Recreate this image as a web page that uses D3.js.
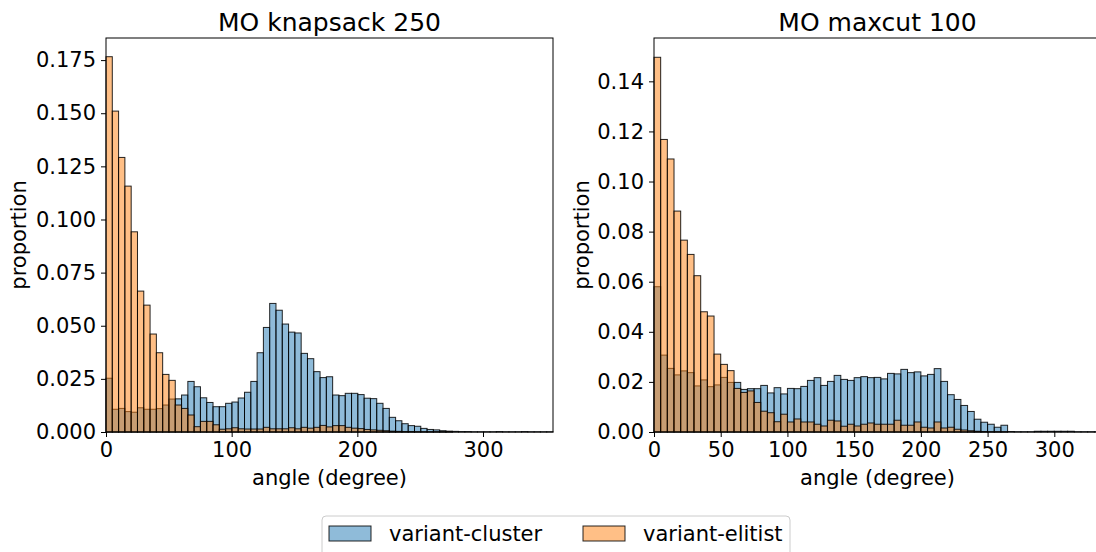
<!DOCTYPE html>
<html>
<head>
<meta charset="utf-8">
<script src="https://cdn.jsdelivr.net/npm/d3@7"></script>
<style>
  body { margin: 0; background: #fff; }
  text { font-family: "DejaVu Sans", sans-serif; fill: #000; }
</style>
</head>
<body>
<svg id="chart"></svg>
<script>
// proportion per 5-degree bin
const knapsackCluster = [
  0.0253, 0.0107, 0.0111, 0.0096, 0.0093, 0.0114, 0.0107, 0.0107, 0.0110, 0.0127,
  0.0155, 0.0156, 0.0174, 0.0238, 0.0213, 0.0161, 0.0139, 0.0119, 0.0119, 0.0135,
  0.0141, 0.0160, 0.0187, 0.0238, 0.0373, 0.0492, 0.0605, 0.0573, 0.0508, 0.0470,
  0.0466, 0.0370, 0.0345, 0.0284, 0.0256, 0.0260, 0.0174, 0.0171, 0.0182, 0.0182,
  0.0176, 0.0159, 0.0157, 0.0135, 0.0111, 0.0069, 0.0053, 0.0039, 0.0030, 0.0027,
  0.0017, 0.0012, 0.0010, 0.0006, 0.0004, 0.0003, 0.0002, 0.0002, 0.0001, 0.0001,
  0.0001, 0.0001, 0.0002, 0.0001, 0.0001, 0.0001, 0.0002, 0.0001, 0.0001, 0.0001,
  0.0001
];
const knapsackElitist = [
  0.1766, 0.1510, 0.1292, 0.1157, 0.0942, 0.0663, 0.0597, 0.0461, 0.0373, 0.0271,
  0.0243, 0.0127, 0.0111, 0.0080, 0.0025, 0.0050, 0.0050, 0.0034, 0.0013, 0.0015,
  0.0020, 0.0015, 0.0014, 0.0014, 0.0014, 0.0022, 0.0015, 0.0015, 0.0015, 0.0020,
  0.0015, 0.0022, 0.0018, 0.0022, 0.0031, 0.0024, 0.0030, 0.0030, 0.0022, 0.0018,
  0.0016, 0.0012, 0.0010, 0.0008, 0.0006, 0.0004, 0.0003, 0.0002, 0.0002, 0.0001,
  0.0001, 0.0001, 0.0001, 0.0001, 0.0001, 0.0000, 0.0000, 0.0000, 0.0000, 0.0000,
  0.0000, 0.0000, 0.0000, 0.0000, 0.0000, 0.0000, 0.0000, 0.0000, 0.0000, 0.0000,
  0.0000
];
const maxcutCluster = [
  0.0580, 0.0307, 0.0254, 0.0228, 0.0244, 0.0237, 0.0184, 0.0208, 0.0181, 0.0188,
  0.0218, 0.0198, 0.0198, 0.0170, 0.0173, 0.0173, 0.0186, 0.0156, 0.0177, 0.0152,
  0.0174, 0.0173, 0.0182, 0.0206, 0.0217, 0.0186, 0.0202, 0.0226, 0.0210, 0.0206,
  0.0217, 0.0221, 0.0217, 0.0218, 0.0212, 0.0234, 0.0232, 0.0250, 0.0237, 0.0240,
  0.0224, 0.0230, 0.0253, 0.0202, 0.0149, 0.0130, 0.0106, 0.0082, 0.0051, 0.0039,
  0.0031, 0.0019, 0.0027, 0.0002, 0.0001, 0.0001, 0.0001, 0.0003, 0.0003, 0.0003,
  0.0003, 0.0003, 0.0003, 0.0001, 0.0001, 0.0001, 0.0001
];
const maxcutElitist = [
  0.1496, 0.1168, 0.1090, 0.0882, 0.0766, 0.0709, 0.0624, 0.0480, 0.0463, 0.0311,
  0.0270, 0.0245, 0.0174, 0.0158, 0.0164, 0.0118, 0.0083, 0.0077, 0.0041, 0.0071,
  0.0040, 0.0052, 0.0040, 0.0040, 0.0031, 0.0024, 0.0047, 0.0044, 0.0023, 0.0031,
  0.0024, 0.0031, 0.0036, 0.0031, 0.0031, 0.0031, 0.0047, 0.0027, 0.0027, 0.0040,
  0.0019, 0.0016, 0.0040, 0.0016, 0.0019, 0.0011, 0.0008, 0.0005, 0.0003, 0.0002,
  0.0001, 0.0001, 0.0001, 0.0000, 0.0000, 0.0000, 0.0000, 0.0000, 0.0000, 0.0000,
  0.0000, 0.0000, 0.0000, 0.0000, 0.0000, 0.0000, 0.0000
];

const knapsackYTicks = [0, 0.025, 0.05, 0.075, 0.1, 0.125, 0.15, 0.175];
const maxcutYTicks = [0, 0.02, 0.04, 0.06, 0.08, 0.1, 0.12, 0.14];
const knapsackXTicks = [0, 100, 200, 300];
const maxcutXTicks = [0, 50, 100, 150, 200, 250, 300];
const seriesNames = ["variant-cluster", "variant-elitist"];

const width = 1096;
const height = 552;
const plotTop = 38, plotBottom = 432, panelW = 447;
const colors = { cluster: "#1f77b4", elitist: "#ff7f0e" };

const svg = d3.select("#chart").attr("width", width).attr("height", height);

const panels = [
  { title: "MO knapsack 250", left: 106, binW: 5.01, yMax: 0.1854, fmt: ".3f", yLabelOff: 80,
    cluster: knapsackCluster, elitist: knapsackElitist, yTicks: knapsackYTicks, xTicks: knapsackXTicks },
  { title: "MO maxcut 100", left: 654, binW: 5.0, yMax: 0.1573, fmt: ".2f", yLabelOff: 65,
    cluster: maxcutCluster, elitist: maxcutElitist, yTicks: maxcutYTicks, xTicks: maxcutXTicks }
];

panels.forEach((p) => {
  const nBins = p.cluster.length;
  const x = d3.scaleLinear().domain([0, nBins * p.binW]).range([p.left, p.left + panelW]);
  const y = d3.scaleLinear().domain([0, p.yMax]).range([plotBottom, plotTop]);
  const g = svg.append("g");

  // cluster first, elitist on top (gives the brown overlap)
  [["cluster", p.cluster], ["elitist", p.elitist]].forEach(([key, vals]) => {
    g.append("g")
      .selectAll("rect")
      .data(vals)
      .enter()
      .append("rect")
      .attr("x", (d, i) => x(i * p.binW))
      .attr("width", x(p.binW) - x(0))
      .attr("y", (d) => y(d))
      .attr("height", (d) => plotBottom - y(d))
      .style("fill", colors[key])
      .style("fill-opacity", 0.5)
      .style("stroke", "#000")
      .style("stroke-opacity", 0.85)
      .style("stroke-width", 1);
  });

  // frame
  g.append("rect")
    .attr("x", p.left)
    .attr("y", plotTop)
    .attr("width", panelW)
    .attr("height", plotBottom - plotTop)
    .style("fill", "none")
    .style("stroke", "#000")
    .style("stroke-width", 1);

  const yAxis = d3.axisLeft(y).tickValues(p.yTicks).tickFormat(d3.format(p.fmt))
    .tickSize(5).tickPadding(5).tickSizeOuter(0);
  g.append("g")
    .attr("transform", `translate(${p.left},0)`)
    .call(yAxis)
    .call((a) => a.select(".domain").remove())
    .selectAll("text")
    .style("font-size", "21px")
    .style("font-family", "DejaVu Sans");

  const xAxis = d3.axisBottom(x).tickValues(p.xTicks).tickFormat(d3.format("d"))
    .tickSize(5).tickPadding(5).tickSizeOuter(0);
  g.append("g")
    .attr("transform", `translate(0,${plotBottom})`)
    .call(xAxis)
    .call((a) => a.select(".domain").remove())
    .selectAll("text")
    .style("font-size", "21px")
    .style("font-family", "DejaVu Sans");

  g.append("text")
    .attr("x", p.left + panelW / 2)
    .attr("y", 31)
    .attr("text-anchor", "middle")
    .style("font-size", "25px")
    .text(p.title);

  g.append("text")
    .attr("x", p.left + panelW / 2)
    .attr("y", 485)
    .attr("text-anchor", "middle")
    .style("font-size", "21px")
    .text("angle (degree)");

  g.append("text")
    .attr("transform", `translate(${p.left - p.yLabelOff},${(plotTop + plotBottom) / 2}) rotate(-90)`)
    .attr("text-anchor", "middle")
    .style("font-size", "21px")
    .text("proportion");
});

// legend
const legend = svg.append("g");
legend.append("rect")
  .attr("x", 322).attr("y", 516).attr("width", 468).attr("height", 50)
  .attr("rx", 4)
  .style("fill", "#fff")
  .style("stroke", "#ccc")
  .style("stroke-width", 1);

const legendX = [329, 583];
seriesNames.forEach((name, i) => {
  const key = i === 0 ? "cluster" : "elitist";
  legend.append("rect")
    .attr("x", legendX[i]).attr("y", 526).attr("width", 42).attr("height", 15)
    .style("fill", colors[key]).style("fill-opacity", 0.5)
    .style("stroke", "#000").style("stroke-opacity", 0.85).style("stroke-width", 1);
  legend.append("text")
    .attr("x", legendX[i] + 60).attr("y", 541)
    .style("font-size", "21px")
    .text(name);
});
</script>
</body>
</html>
